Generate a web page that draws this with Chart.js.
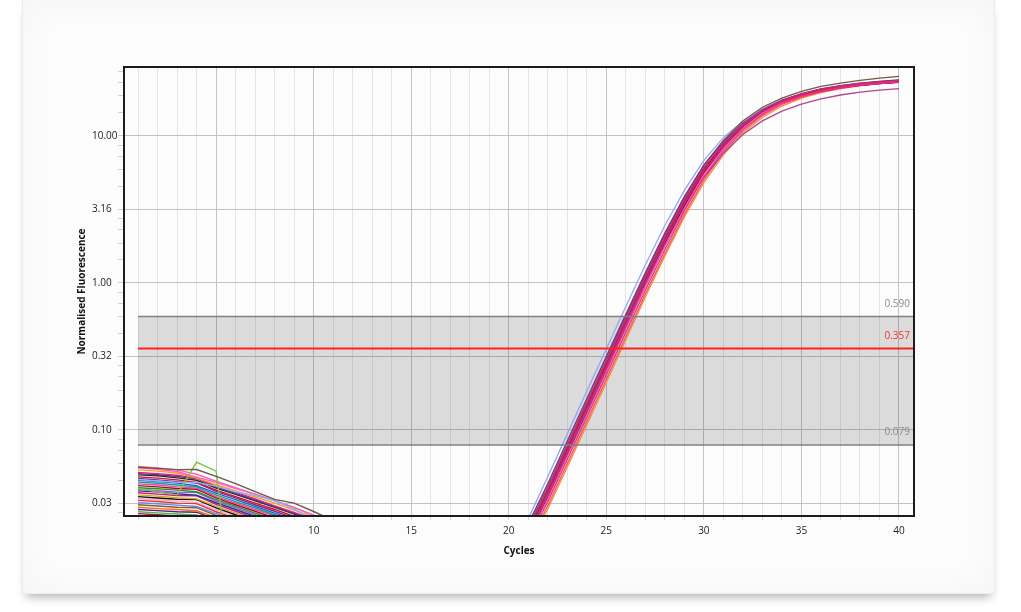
<!DOCTYPE html>
<html>
<head>
<meta charset="utf-8">
<title>Amplification plot</title>
<script src="https://cdn.jsdelivr.net/npm/chart.js@4.4.1/dist/chart.umd.min.js"></script>
<style>
  html, body { margin: 0; padding: 0; background: #ffffff; overflow: hidden; }
  .card {
    position: absolute; left: 22px; top: 0; width: 971px; height: 593px;
    background: #fcfcfc; border: 1px solid #ececec; border-top: none;
    box-shadow: 0 7px 9px -4px rgba(0,0,0,0.3), inset 0 0 36px rgba(0,0,0,0.035);
  }
  #chart { position: absolute; left: 0; top: 0; }
</style>
</head>
<body>
<div class="card"></div>
<canvas id="chart" width="1021" height="612"></canvas>
<script>
// baseline part of the traces (cycles 1-11)
const baselineCycles = [1, 2, 3, 4, 5, 6, 7, 8, 9, 10, 11];
const baselineTraces = [
  [0.0558, 0.0548, 0.0537, 0.0538, 0.0483, 0.0432, 0.0381, 0.0337, 0.0318, 0.0279, 0.0242],
  [0.0400, 0.0380, 0.0362, 0.0605, 0.0525, 0.0050, 0.0060, 0.0050, 0.0060, 0.0050, 0.0050],
  [0.0460, 0.0450, 0.0440, 0.0440, 0.0415, 0.0380, 0.0358, 0.0330, 0.0290, 0.0245, 0.0210],
  [0.0565, 0.0552, 0.0535, 0.0500, 0.0448, 0.0405, 0.0366, 0.0331, 0.0297, 0.0263, 0.0233],
  [0.0552, 0.0540, 0.0522, 0.0478, 0.0440, 0.0400, 0.0365, 0.0330, 0.0296, 0.0262, 0.0232],
  [0.0535, 0.0525, 0.0510, 0.0470, 0.0425, 0.0385, 0.0350, 0.0318, 0.0285, 0.0255, 0.0228],
  [0.0515, 0.0505, 0.0492, 0.0470, 0.0415, 0.0378, 0.0340, 0.0305, 0.0275, 0.0248, 0.0220],
  [0.0505, 0.0496, 0.0482, 0.0468, 0.0408, 0.0370, 0.0334, 0.0301, 0.0271, 0.0244, 0.0218],
  [0.0495, 0.0488, 0.0472, 0.0455, 0.0402, 0.0365, 0.0330, 0.0298, 0.0268, 0.0240, 0.0215],
  [0.0480, 0.0470, 0.0458, 0.0440, 0.0390, 0.0352, 0.0318, 0.0288, 0.0258, 0.0232, 0.0210],
  [0.0468, 0.0458, 0.0445, 0.0436, 0.0382, 0.0345, 0.0310, 0.0280, 0.0252, 0.0228, 0.0205],
  [0.0455, 0.0445, 0.0435, 0.0418, 0.0372, 0.0336, 0.0302, 0.0272, 0.0246, 0.0222, 0.0200],
  [0.0442, 0.0434, 0.0422, 0.0410, 0.0362, 0.0326, 0.0295, 0.0265, 0.0240, 0.0216, 0.0195],
  [0.0430, 0.0422, 0.0410, 0.0402, 0.0352, 0.0318, 0.0288, 0.0260, 0.0234, 0.0210, 0.0190],
  [0.0418, 0.0410, 0.0400, 0.0395, 0.0345, 0.0310, 0.0280, 0.0252, 0.0228, 0.0205, 0.0185],
  [0.0405, 0.0398, 0.0390, 0.0380, 0.0336, 0.0302, 0.0272, 0.0245, 0.0222, 0.0200, 0.0180],
  [0.0395, 0.0386, 0.0378, 0.0376, 0.0328, 0.0295, 0.0265, 0.0240, 0.0216, 0.0195, 0.0176],
  [0.0385, 0.0378, 0.0368, 0.0360, 0.0320, 0.0288, 0.0258, 0.0233, 0.0210, 0.0190, 0.0172],
  [0.0374, 0.0366, 0.0358, 0.0356, 0.0312, 0.0280, 0.0252, 0.0228, 0.0205, 0.0185, 0.0168],
  [0.0362, 0.0355, 0.0346, 0.0340, 0.0302, 0.0272, 0.0246, 0.0222, 0.0200, 0.0180, 0.0163],
  [0.0352, 0.0345, 0.0338, 0.0336, 0.0295, 0.0265, 0.0240, 0.0216, 0.0195, 0.0176, 0.0159],
  [0.0342, 0.0335, 0.0328, 0.0322, 0.0286, 0.0258, 0.0233, 0.0210, 0.0190, 0.0171, 0.0155],
  [0.0332, 0.0326, 0.0318, 0.0316, 0.0278, 0.0250, 0.0226, 0.0204, 0.0184, 0.0166, 0.0150],
  [0.0320, 0.0315, 0.0308, 0.0302, 0.0270, 0.0243, 0.0220, 0.0198, 0.0179, 0.0162, 0.0146],
  [0.0310, 0.0304, 0.0298, 0.0296, 0.0262, 0.0236, 0.0213, 0.0192, 0.0174, 0.0157, 0.0142],
  [0.0298, 0.0292, 0.0288, 0.0282, 0.0254, 0.0229, 0.0206, 0.0186, 0.0168, 0.0152, 0.0137],
  [0.0288, 0.0283, 0.0278, 0.0276, 0.0246, 0.0222, 0.0200, 0.0180, 0.0163, 0.0147, 0.0133],
  [0.0278, 0.0273, 0.0268, 0.0264, 0.0238, 0.0214, 0.0193, 0.0174, 0.0157, 0.0142, 0.0128],
  [0.0270, 0.0265, 0.0260, 0.0258, 0.0232, 0.0208, 0.0188, 0.0170, 0.0153, 0.0138, 0.0125]
];
const baselineColors = [
  '#6b5a45', '#7dc242', '#8ab4f8', '#f06ab0', '#ff5cb8', '#ff9a1f', '#e0218a', '#4a3a8a', '#2b2b2b',
  '#c8102e', '#7b2d8e', '#1f5fd1', '#1a9a8a', '#ff3d9a', '#8b1a1a', '#2e8b3a', '#9b59d0', '#203a8a',
  '#d4148c', '#d9a21b', '#111111', '#f7a8c8', '#e8322b', '#5b8def', '#8c5a2b', '#f06a2a', '#5a1f6e',
  '#4cb84c', '#b0124a'
];

// amplification part of the traces (cycles 20-40)
const ampCycles = [20, 21, 22, 23, 24, 25, 26, 27, 28, 29, 30, 31, 32, 33, 34, 35, 36, 37, 38, 39, 40];
const ampTraces = [
  [0.0098, 0.0178, 0.0325, 0.063, 0.122, 0.236, 0.46, 0.89, 1.68, 3.08, 5.25, 7.95, 11.0, 14.0, 16.6, 18.5, 20.0, 21.1, 22.0, 22.6, 23.1],
  [0.011, 0.020, 0.037, 0.072, 0.140, 0.270, 0.53, 1.02, 1.92, 3.45, 5.75, 8.5, 11.7, 14.8, 17.1, 18.9, 20.3, 21.4, 22.2, 22.8, 23.3],
  [0.0102, 0.0185, 0.034, 0.066, 0.128, 0.248, 0.485, 0.94, 1.77, 3.22, 5.45, 8.2, 11.3, 14.3, 16.8, 18.7, 20.2, 21.3, 22.2, 22.8, 23.3],
  [0.0118, 0.0215, 0.040, 0.078, 0.152, 0.293, 0.57, 1.10, 2.06, 3.68, 6.1, 8.9, 12.0, 14.9, 17.3, 19.2, 20.7, 21.8, 22.7, 23.3, 23.8],
  [0.011, 0.020, 0.036, 0.070, 0.136, 0.262, 0.51, 0.97, 1.80, 3.20, 5.2, 7.6, 10.2, 12.6, 14.7, 16.4, 17.8, 18.9, 19.8, 20.4, 20.9],
  [0.0115, 0.021, 0.039, 0.076, 0.148, 0.286, 0.56, 1.08, 2.02, 3.62, 6.0, 8.8, 11.9, 14.9, 17.3, 19.1, 20.5, 21.6, 22.4, 23.0, 23.5],
  [0.012, 0.023, 0.043, 0.084, 0.163, 0.315, 0.61, 1.17, 2.18, 3.85, 6.3, 9.1, 12.2, 15.0, 17.3, 19.1, 20.5, 21.6, 22.4, 23.0, 23.5],
  [0.0112, 0.0205, 0.038, 0.074, 0.144, 0.278, 0.545, 1.05, 1.97, 3.55, 5.9, 8.7, 11.9, 14.9, 17.4, 19.3, 20.8, 21.9, 22.8, 23.4, 23.9],
  [0.0105, 0.019, 0.035, 0.068, 0.132, 0.255, 0.50, 0.97, 1.83, 3.32, 5.6, 8.3, 11.4, 14.4, 16.9, 18.7, 20.1, 21.2, 22.0, 22.6, 23.0],
  [0.0108, 0.0198, 0.0365, 0.071, 0.138, 0.266, 0.52, 1.00, 1.88, 3.40, 5.7, 8.5, 11.6, 14.6, 17.0, 18.8, 20.2, 21.3, 22.1, 22.7, 23.1],
  [0.0093, 0.0168, 0.0305, 0.059, 0.114, 0.221, 0.43, 0.84, 1.58, 2.92, 5.0, 7.7, 10.7, 13.7, 16.3, 18.3, 19.8, 21.0, 21.9, 22.6, 23.1],
  [0.0095, 0.016, 0.029, 0.056, 0.108, 0.21, 0.41, 0.80, 1.52, 2.80, 4.8, 7.4, 10.4, 13.3, 15.9, 18.0, 19.6, 20.9, 21.9, 22.6, 23.1],
  [0.012, 0.022, 0.041, 0.080, 0.155, 0.300, 0.59, 1.13, 2.12, 3.80, 6.3, 9.3, 12.6, 15.6, 18.0, 20.0, 21.6, 22.8, 23.8, 24.6, 25.3],
  [0.013, 0.025, 0.048, 0.094, 0.183, 0.355, 0.69, 1.32, 2.45, 4.25, 6.8, 9.7, 12.6, 15.3, 17.5, 19.2, 20.5, 21.5, 22.3, 22.9, 23.4]
];
const ampColors = [
  '#e62e8f', '#d81b7a', '#ff4fa3', '#c0307a', '#b0468e', '#c41e3a', '#7a2a8c',
  '#7d1535', '#262626', '#3355cc', '#f05a4a', '#ff8a3d', '#6e5a48', '#8fa8f0'
];

// axis ticks
const yTickValues = [0.0316, 0.1, 0.316, 1, 3.16, 10];
const yTickLabels = ['0.03', '0.10', '0.32', '1.00', '3.16', '10.00'];
const xGridCycles = Array.from({ length: 40 }, (_, i) => i + 1);

// threshold band
const thresholdHigh = 0.590;
const threshold = 0.357;
const thresholdLow = 0.079;
const thresholdStartCycle = 1;

const yMin = 0.026;
const yMax = 29.3;

// minor ticks: 4 even steps between the half-decade labels
const yBounds = [0.01, ...yTickValues, 31.6];
const yAllTicks = [];
for (let i = 0; i < yBounds.length - 1; i++) {
  const step = (yBounds[i + 1] - yBounds[i]) / 5;
  if (i > 0) yAllTicks.push({ value: yBounds[i], major: true });
  for (let k = 1; k < 5; k++) {
    const v = yBounds[i] + k * step;
    if (v > yMin && v < yMax) yAllTicks.push({ value: v, major: false });
  }
}

const datasets = [];
ampTraces.forEach((vals, i) => {
  datasets.push({
    data: vals.map((v, j) => ({ x: ampCycles[j], y: v })),
    borderColor: ampColors[i], borderWidth: 1.3, pointRadius: 0, tension: 0, fill: false
  });
});
baselineTraces.forEach((vals, i) => {
  datasets.push({
    data: vals.map((v, j) => ({ x: baselineCycles[j], y: v })),
    borderColor: baselineColors[i], borderWidth: 1.4, pointRadius: 0, tension: 0, fill: false
  });
});

const thresholdPlugin = {
  id: 'thresholds',
  beforeDatasetsDraw(chart) {
    const { ctx, chartArea, scales: { x, y } } = chart;
    const x0 = x.getPixelForValue(thresholdStartCycle);
    const yTop = y.getPixelForValue(thresholdHigh);
    const yBot = y.getPixelForValue(thresholdLow);
    ctx.save();
    ctx.fillStyle = 'rgba(0,0,0,0.13)';
    ctx.fillRect(x0, yTop, chartArea.right - x0, yBot - yTop);
    ctx.restore();
  },
  afterDatasetsDraw(chart) {
    const { ctx, chartArea, scales: { x, y } } = chart;
    const x0 = x.getPixelForValue(thresholdStartCycle);
    const lines = [
      { v: thresholdHigh, color: '#808080', text: '0.590', width: 1.5 },
      { v: threshold, color: '#ff2020', text: '0.357', width: 2 },
      { v: thresholdLow, color: '#808080', text: '0.079', width: 1.5 }
    ];
    ctx.save();
    lines.forEach(l => {
      const py = y.getPixelForValue(l.v);
      ctx.strokeStyle = l.color;
      ctx.lineWidth = l.width;
      ctx.beginPath();
      ctx.moveTo(x0, py);
      ctx.lineTo(chartArea.right, py);
      ctx.stroke();
      ctx.fillStyle = l.color === '#808080' ? '#8a8a8a' : '#ff2a2a';
      ctx.font = '10px "Open Sans"';
      ctx.textAlign = 'right';
      ctx.textBaseline = 'middle';
      ctx.fillText(l.text, chartArea.right - 4, py - 12.5);
    });
    // plot frame
    ctx.strokeStyle = '#1c1c1c';
    ctx.lineWidth = 2;
    ctx.strokeRect(chartArea.left, chartArea.top, chartArea.right - chartArea.left, chartArea.bottom - chartArea.top);
    ctx.restore();
  }
};

Chart.defaults.font.family = '"Open Sans", "Noto Sans", sans-serif';

new Chart(document.getElementById('chart').getContext('2d'), {
  type: 'line',
  data: { datasets },
  options: {
    responsive: false,
    animation: false,
    layout: { padding: { left: 92, right: 107, top: 67, bottom: 30 } },
    plugins: { legend: { display: false }, tooltip: { enabled: false } },
    scales: {
      x: {
        type: 'linear', min: 0.28, max: 40.77,
        afterBuildTicks: s => { s.ticks = xGridCycles.map(v => ({ value: v })); },
        afterFit: s => { s.height = 66; },
        grid: {
          color: c => (c.tick && c.tick.value % 5 === 0) ? '#c4c4c4' : '#e5e5e5',
          tickLength: 4, tickColor: '#d6d6d6'
        },
        border: { display: false },
        ticks: {
          autoSkip: false, maxRotation: 0, minRotation: 0, padding: 5, color: '#222',
          font: { size: 10 },
          callback: v => (v % 5 === 0 ? String(v) : '')
        },
        title: {
          display: true, text: 'Cycles', color: '#111',
          font: { size: 10, weight: 'bold' }, padding: { top: 0, bottom: 25 }
        }
      },
      y: {
        type: 'logarithmic', min: yMin, max: yMax,
        afterBuildTicks: s => { s.ticks = yAllTicks.map(t => ({ value: t.value, major: t.major })); },
        afterFit: s => { s.width = 32; },
        grid: {
          color: c => (c.tick && c.tick.major) ? '#c2c2c2' : 'rgba(0,0,0,0)',
          tickLength: 6, tickColor: '#cfcfcf'
        },
        border: { display: false },
        ticks: {
          autoSkip: false, crossAlign: 'far', padding: 4, color: '#222',
          font: { size: 10 },
          callback: v => {
            const k = yTickValues.indexOf(v);
            return k >= 0 ? yTickLabels[k] : '';
          }
        },
        title: {
          display: true, text: 'Normalised Fluorescence', color: '#111',
          font: { size: 10, weight: 'bold' }, padding: { top: -15.5, bottom: 0 }
        }
      }
    }
  },
  plugins: [thresholdPlugin]
});
</script>
</body>
</html>
